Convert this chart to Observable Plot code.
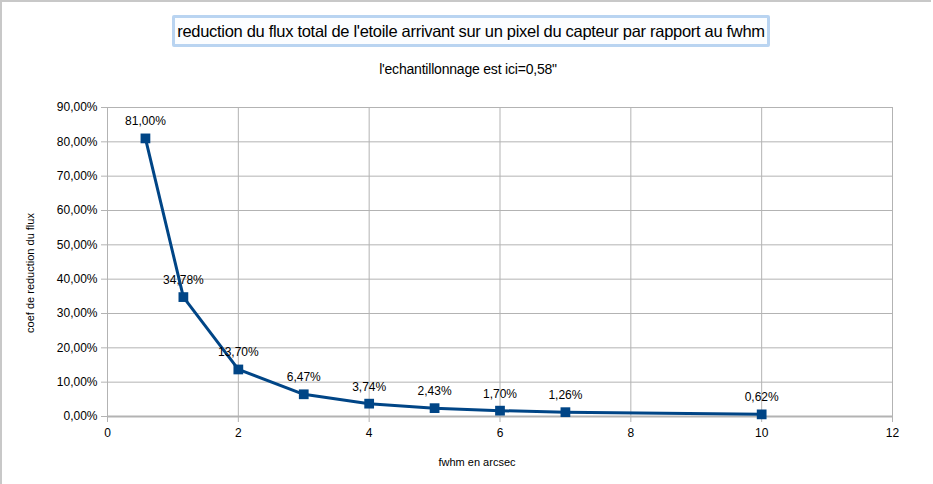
<!DOCTYPE html>
<html>
<head>
<meta charset="utf-8">
<script src="https://cdn.jsdelivr.net/npm/d3@7"></script>
<script src="https://cdn.jsdelivr.net/npm/@observablehq/plot@0.6"></script>
<style>
  html, body { margin: 0; padding: 0; background: #fff; }
  #wrap { position: relative; width: 933px; height: 484px; font-family: "Liberation Sans", Arial, sans-serif; }
  #frame { position: absolute; left: 0; top: 0; width: 931px; height: 484px; border-left: 2px solid #c8c8c8; border-top: 2px solid #c8c8c8; box-sizing: border-box; pointer-events: none; }
  #title { position: absolute; left: 172px; top: 15px; width: 598px; height: 32px; box-sizing: border-box; border: 3px solid #b9d4f1; border-radius: 2px; background: #fbfdff; font-size: 16.5px; line-height: 26px; text-align: center; color: #000; letter-spacing: -0.3px; white-space: nowrap; }
  #subtitle { position: absolute; left: 0; width: 936px; top: 61px; line-height: 16px; text-align: center; font-size: 14px; color: #000; letter-spacing: -0.2px; white-space: nowrap; }
</style>
</head>
<body>
<div id="wrap">
  <div id="chart"></div>
  <div id="title">reduction du flux total de l'etoile arrivant sur un pixel du capteur par rapport au fwhm</div>
  <div id="subtitle">l'echantillonnage est ici=0,58"</div>
  <div id="frame"></div>
</div>
<script>
const fwhm = [0.58, 1.16, 2, 3, 4, 5, 6, 7, 10];
const coef = [0.81, 0.3478, 0.137, 0.0647, 0.0374, 0.0243, 0.017, 0.0126, 0.0062];
const xTicks = [0, 2, 4, 6, 8, 10, 12];
const yTicks = [0, 0.1, 0.2, 0.3, 0.4, 0.5, 0.6, 0.7, 0.8, 0.9];
const xTitle = "fwhm en arcsec";
const yTitle = "coef de reduction du flux";

const data = fwhm.map((x, i) => ({x, y: coef[i]}));
const pct = v => (v * 100).toFixed(2).replace(".", ",") + "%";

const chart = Plot.plot({
  width: 933,
  height: 484,
  marginLeft: 107,
  marginRight: 41,
  marginTop: 107,
  marginBottom: 68,
  style: { fontFamily: "'Liberation Sans', Arial, sans-serif", fontSize: "12px", color: "#000", background: "transparent" },
  x: { domain: [0, 12], ticks: xTicks, tickSize: 6, tickPadding: 6, label: null, tickFormat: d => String(d) },
  y: { domain: [0, 0.9], ticks: yTicks, tickSize: 6, tickPadding: 4, label: null, tickFormat: pct },
  marks: [
    Plot.gridX(xTicks, { stroke: "#b3b3b3", strokeOpacity: 1, strokeWidth: 1 }),
    Plot.gridY(yTicks, { stroke: "#b3b3b3", strokeOpacity: 1, strokeWidth: 1 }),
    Plot.ruleY([0], { stroke: "#b3b3b3", strokeWidth: 2 }),
    Plot.ruleX([0], { stroke: "#b3b3b3", strokeWidth: 1 }),
    Plot.axisX({ ticks: xTicks, tickSize: 6, tickPadding: 6, stroke: "#b3b3b3", fill: "#000", fontSize: 12, tickFormat: d => String(d), label: null }),
    Plot.axisY({ ticks: yTicks, tickSize: 6, tickPadding: 4, stroke: "#b3b3b3", fill: "#000", fontSize: 12, tickFormat: pct, label: null }),
    Plot.text([xTitle], { frameAnchor: "bottom", dx: -23, dy: 49, fontSize: 11, fill: "#000" }),
    Plot.text([yTitle], { frameAnchor: "left", textAnchor: "middle", dx: -77, dy: 11, rotate: -90, fontSize: 11, fill: "#000" }),
    Plot.line(data, { x: "x", y: "y", stroke: "#004586", strokeWidth: 3 }),
    Plot.dot(data, { x: "x", y: "y", symbol: "square", r: 5.5, fill: "#004586", stroke: "none" }),
    Plot.text(data, { x: "x", y: "y", text: d => pct(d.y), dy: -17, fontSize: 12, fill: "#000" })
  ]
});
document.getElementById("chart").appendChild(chart);
</script>
</body>
</html>
